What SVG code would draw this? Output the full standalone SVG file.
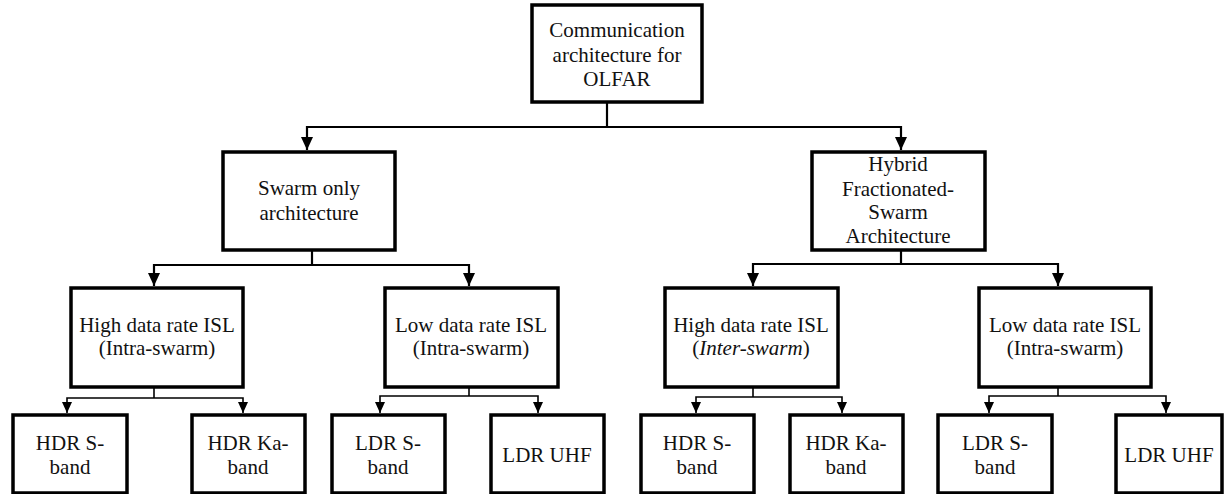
<svg xmlns="http://www.w3.org/2000/svg" width="1225" height="494" viewBox="0 0 1225 494">
<defs>
<marker id="ab" markerUnits="userSpaceOnUse" markerWidth="13" markerHeight="12" refX="13" refY="6" orient="auto" viewBox="0 0 13 12"><path d="M0,0 L13,6 L0,12 z" fill="#000"/></marker>
<marker id="as" markerUnits="userSpaceOnUse" markerWidth="11" markerHeight="10" refX="11" refY="5" orient="auto" viewBox="0 0 11 10"><path d="M0,0 L11,5 L0,10 z" fill="#000"/></marker>
</defs>
<rect width="1225" height="494" fill="#fff"/>
<g id="connectors" fill="none" stroke="#000">
<g stroke-width="2.2">
<path d="M607,102 V127"/>
<path d="M607,127 H307 V150" marker-end="url(#ab)"/>
<path d="M607,127 H901 V150" marker-end="url(#ab)"/>
<path d="M312,250 V265"/>
<path d="M312,265 H154 V286" marker-end="url(#ab)"/>
<path d="M312,265 H469 V286" marker-end="url(#ab)"/>
<path d="M901,250 V264"/>
<path d="M901,264 H753 V286" marker-end="url(#ab)"/>
<path d="M901,264 H1058 V286" marker-end="url(#ab)"/>
</g>
<g stroke-width="1.6">
<path d="M154,387 V398"/>
<path d="M154,398 H67 V413" marker-end="url(#as)"/>
<path d="M154,398 H243 V413" marker-end="url(#as)"/>
<path d="M469,387 V396"/>
<path d="M469,396 H380 V413" marker-end="url(#as)"/>
<path d="M469,396 H538 V413" marker-end="url(#as)"/>
<path d="M753,387 V397"/>
<path d="M753,397 H696 V413" marker-end="url(#as)"/>
<path d="M753,397 H842 V413" marker-end="url(#as)"/>
<path d="M1058,387 V396"/>
<path d="M1058,396 H989 V413" marker-end="url(#as)"/>
<path d="M1058,396 H1166 V413" marker-end="url(#as)"/>
</g>
</g>
<g id="root"><rect x="532" y="5" width="170" height="97" fill="#fff" stroke="#000" stroke-width="3.5"/>
<text style="font-family:'Liberation Serif';font-size:21px;fill:#111;text-anchor:middle"><tspan x="617" y="37">Communication</tspan><tspan x="617" y="62">architecture for</tspan><tspan x="617" y="86">OLFAR</tspan></text></g>
<g id="swarm"><rect x="223" y="152" width="172" height="98" fill="#fff" stroke="#000" stroke-width="3.5"/>
<text style="font-family:'Liberation Serif';font-size:21px;fill:#111;text-anchor:middle"><tspan x="309" y="195">Swarm only</tspan><tspan x="309" y="220">architecture</tspan></text></g>
<g id="hybrid"><rect x="812" y="152" width="173" height="98" fill="#fff" stroke="#000" stroke-width="3.5"/>
<text style="font-family:'Liberation Serif';font-size:21px;fill:#111;text-anchor:middle"><tspan x="898" y="171">Hybrid</tspan><tspan x="898" y="196">Fractionated-</tspan><tspan x="898" y="219">Swarm</tspan><tspan x="898" y="243">Architecture</tspan></text></g>
<g id="hdr1"><rect x="71" y="288" width="172" height="99" fill="#fff" stroke="#000" stroke-width="3.5"/>
<text style="font-family:'Liberation Serif';font-size:21px;fill:#111;text-anchor:middle"><tspan x="157" y="332">High data rate ISL</tspan><tspan x="157" y="355">(Intra-swarm)</tspan></text></g>
<g id="ldr1"><rect x="385" y="288" width="173" height="99" fill="#fff" stroke="#000" stroke-width="3.5"/>
<text style="font-family:'Liberation Serif';font-size:21px;fill:#111;text-anchor:middle"><tspan x="471" y="332">Low data rate ISL</tspan><tspan x="471" y="355">(Intra-swarm)</tspan></text></g>
<g id="hdr2"><rect x="665" y="288" width="173" height="99" fill="#fff" stroke="#000" stroke-width="3.5"/>
<text style="font-family:'Liberation Serif';font-size:21px;fill:#111;text-anchor:middle"><tspan x="751" y="332">High data rate ISL</tspan><tspan x="751" y="355">(<tspan style="font-style:italic">Inter-swarm</tspan>)</tspan></text></g>
<g id="ldr2"><rect x="979" y="288" width="172" height="99" fill="#fff" stroke="#000" stroke-width="3.5"/>
<text style="font-family:'Liberation Serif';font-size:21px;fill:#111;text-anchor:middle"><tspan x="1065" y="332">Low data rate ISL</tspan><tspan x="1065" y="355">(Intra-swarm)</tspan></text></g>
<g id="hdrs1"><rect x="13" y="415" width="114" height="78" fill="#fff" stroke="#000" stroke-width="3.5"/>
<text style="font-family:'Liberation Serif';font-size:21px;fill:#111;text-anchor:middle"><tspan x="70" y="450">HDR S-</tspan><tspan x="70" y="474">band</tspan></text></g>
<g id="hdrka1"><rect x="192" y="415" width="113" height="78" fill="#fff" stroke="#000" stroke-width="3.5"/>
<text style="font-family:'Liberation Serif';font-size:21px;fill:#111;text-anchor:middle"><tspan x="248" y="450">HDR Ka-</tspan><tspan x="248" y="474">band</tspan></text></g>
<g id="ldrs1"><rect x="332" y="415" width="113" height="78" fill="#fff" stroke="#000" stroke-width="3.5"/>
<text style="font-family:'Liberation Serif';font-size:21px;fill:#111;text-anchor:middle"><tspan x="388" y="450">LDR S-</tspan><tspan x="388" y="474">band</tspan></text></g>
<g id="ldruhf1"><rect x="491" y="415" width="113" height="78" fill="#fff" stroke="#000" stroke-width="3.5"/>
<text x="547" y="462" style="font-family:'Liberation Serif';font-size:21px;fill:#111;text-anchor:middle">LDR UHF</text></g>
<g id="hdrs2"><rect x="641" y="415" width="113" height="78" fill="#fff" stroke="#000" stroke-width="3.5"/>
<text style="font-family:'Liberation Serif';font-size:21px;fill:#111;text-anchor:middle"><tspan x="697" y="450">HDR S-</tspan><tspan x="697" y="474">band</tspan></text></g>
<g id="hdrka2"><rect x="790" y="415" width="113" height="78" fill="#fff" stroke="#000" stroke-width="3.5"/>
<text style="font-family:'Liberation Serif';font-size:21px;fill:#111;text-anchor:middle"><tspan x="846" y="450">HDR Ka-</tspan><tspan x="846" y="474">band</tspan></text></g>
<g id="ldrs2"><rect x="938" y="415" width="114" height="78" fill="#fff" stroke="#000" stroke-width="3.5"/>
<text style="font-family:'Liberation Serif';font-size:21px;fill:#111;text-anchor:middle"><tspan x="995" y="450">LDR S-</tspan><tspan x="995" y="474">band</tspan></text></g>
<g id="ldruhf2"><rect x="1116" y="415" width="106" height="78" fill="#fff" stroke="#000" stroke-width="3.5"/>
<text x="1169" y="462" style="font-family:'Liberation Serif';font-size:21px;fill:#111;text-anchor:middle">LDR UHF</text></g>
</svg>
